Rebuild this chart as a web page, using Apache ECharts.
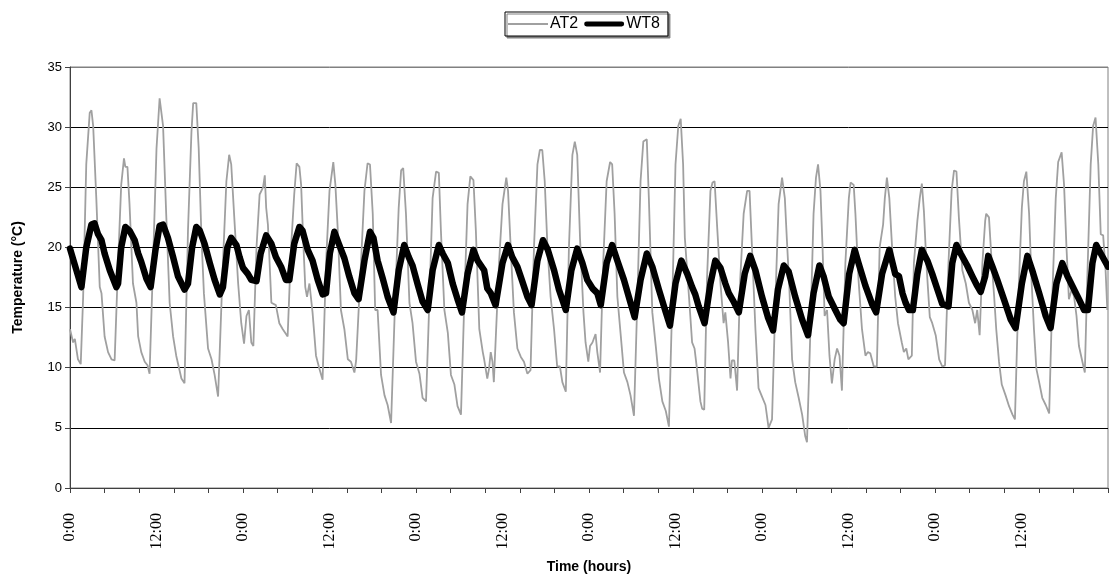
<!DOCTYPE html>
<html>
<head>
<meta charset="utf-8">
<script src="https://cdn.jsdelivr.net/npm/echarts@6/dist/echarts.min.js"></script>
<style>html,body{margin:0;padding:0;background:#fff}#c{width:1109px;height:579px}</style>
</head>
<body>
<div id="c"></div>
<script>
// x = elapsed time in days, y = temperature in °C
const at2 = [
[0.00,13.2],[0.09,12.1],[0.14,12.4],[0.23,10.7],[0.31,10.3],[0.38,15.9],[0.47,26.9],[0.57,31.2],[0.62,31.4],[0.67,30.1],[0.76,24.1],[0.86,16.7],[0.91,16.2],[1.00,12.6],[1.10,11.3],[1.20,10.7],[1.29,10.6],[1.39,18.7],[1.48,25.2],[1.56,27.4],[1.60,26.7],[1.66,26.7],[1.72,23.6],[1.82,17.0],[1.92,15.4],[1.97,12.6],[2.06,11.3],[2.16,10.5],[2.24,10.2],[2.30,9.5],[2.40,18.7],[2.50,28.2],[2.59,32.4],[2.69,30.1],[2.78,22.8],[2.88,15.4],[2.98,12.6],[3.07,11.0],[3.22,9.1],[3.31,8.7],[3.41,21.4],[3.51,29.6],[3.56,32.0],[3.65,32.0],[3.72,28.2],[3.80,20.8],[3.87,16.2],[3.99,11.6],[4.09,10.7],[4.18,9.4],[4.28,7.6],[4.33,7.7],[4.42,18.7],[4.52,25.5],[4.60,27.7],[4.66,26.9],[4.76,21.9],[4.86,17.0],[4.95,13.7],[5.03,12.0],[5.10,14.3],[5.17,14.8],[5.24,12.1],[5.30,11.8],[5.39,20.0],[5.48,24.4],[5.58,25.0],[5.63,26.0],[5.67,23.3],[5.72,21.9],[5.82,15.4],
[5.95,15.2],[6.05,13.7],[6.15,13.2],[6.29,12.6],[6.39,20.0],[6.48,24.4],[6.55,27.0],[6.63,26.7],[6.68,25.2],[6.74,20.6],[6.80,16.7],[6.85,15.9],[6.92,17.0],[7.01,14.6],[7.11,11.0],[7.21,9.9],[7.30,9.0],[7.40,18.7],[7.50,24.7],[7.61,27.1],[7.67,25.2],[7.74,21.4],[7.83,14.8],[7.93,13.2],[8.03,10.7],[8.12,10.5],[8.22,9.6],[8.27,10.6],[8.31,10.5],[8.41,18.7],[8.51,24.7],[8.60,27.0],[8.67,26.9],[8.75,22.8],[8.82,14.8],[8.89,14.8],[8.99,9.4],[9.09,7.7],[9.18,6.9],[9.28,5.4],[9.31,5.4],[9.40,15.9],[9.50,23.3],[9.57,26.4],[9.63,26.6],[9.71,22.8],[9.81,15.4],[9.90,13.7],[10.00,10.5],[10.10,9.5],[10.19,7.5],[10.29,7.2],[10.39,15.9],[10.48,24.1],[10.58,26.3],[10.66,26.2],[10.72,21.4],[10.82,14.8],[10.92,12.9],[11.01,9.4],[11.11,8.6],[11.20,6.8],[11.30,6.1],[11.40,15.9],[11.49,23.6],[11.57,25.9],[11.66,25.6],[11.73,21.4],[11.83,13.2],[11.93,11.3],
[11.97,10.7],[12.06,9.1],[12.11,9.9],[12.16,11.3],[12.21,10.5],[12.25,8.8],[12.30,8.8],[12.40,18.7],[12.50,23.6],[12.54,24.4],[12.61,25.8],[12.66,24.7],[12.74,19.8],[12.83,14.6],[12.93,11.6],[13.03,10.9],[13.12,10.5],[13.22,9.5],[13.31,9.8],[13.41,20.0],[13.51,26.9],[13.58,28.1],[13.65,28.1],[13.72,25.5],[13.80,20.0],[13.89,15.9],[13.99,13.2],[14.08,10.1],[14.16,10.1],[14.23,8.8],[14.33,8.0],[14.42,20.0],[14.52,27.7],[14.59,28.8],[14.66,27.7],[14.74,20.8],[14.84,14.6],[14.90,12.1],[14.98,10.5],[15.03,11.8],[15.10,12.1],[15.19,12.8],[15.24,11.3],[15.32,9.6],[15.41,18.7],[15.51,25.5],[15.61,27.1],[15.67,26.9],[15.74,22.8],[15.82,15.9],[15.92,12.6],[16.01,9.6],[16.11,8.8],[16.20,7.7],[16.30,6.0],[16.40,15.9],[16.49,25.5],[16.57,28.8],[16.67,29.0],[16.73,24.1],[16.83,14.6],[16.93,11.8],[17.02,9.1],[17.12,7.2],[17.22,6.4],[17.31,5.1],[17.41,15.9],[17.50,26.9],[17.58,30.1],[17.65,30.7],[17.72,26.9],[17.77,20.8],[17.82,20.7],[17.89,15.9],
[17.98,12.1],[18.05,11.6],[18.12,9.9],[18.22,7.2],[18.27,6.6],[18.33,6.5],[18.41,17.3],[18.51,24.7],[18.57,25.4],[18.63,25.5],[18.70,21.9],[18.80,17.0],[18.89,13.7],[18.94,14.6],[19.02,12.1],[19.09,9.1],[19.13,10.6],[19.20,10.6],[19.28,8.1],[19.37,17.3],[19.47,22.8],[19.57,24.7],[19.64,24.7],[19.71,20.0],[19.81,13.2],[19.90,8.3],[20.00,7.6],[20.10,6.9],[20.19,5.0],[20.29,5.7],[20.39,15.9],[20.48,23.6],[20.58,25.8],[20.66,24.1],[20.72,20.6],[20.79,16.7],[20.87,10.7],[20.96,8.8],[21.06,7.5],[21.16,6.1],[21.25,4.3],[21.30,3.8],[21.40,13.2],[21.49,22.8],[21.56,25.8],[21.62,26.9],[21.69,24.7],[21.75,20.0],[21.81,14.3],[21.88,14.8],[21.95,11.0],[22.02,8.7],[22.10,10.7],[22.17,11.6],[22.24,11.0],[22.31,8.1],[22.41,18.7],[22.51,24.1],[22.56,25.4],[22.65,25.2],[22.70,22.8],[22.79,17.3],[22.89,13.2],[22.99,11.0],[23.06,11.3],[23.13,11.2],[23.23,10.1],[23.32,10.1],[23.40,20.0],[23.50,21.9],[23.55,24.1],[23.61,25.8],[23.68,24.1],[23.76,20.0],[23.85,15.9],[23.93,13.7],
[24.04,12.1],[24.10,11.3],[24.17,11.6],[24.23,10.7],[24.33,11.0],[24.39,18.7],[24.49,22.2],[24.56,24.1],[24.62,25.3],[24.68,23.0],[24.75,18.7],[24.85,14.2],[24.92,13.7],[25.02,12.7],[25.12,10.7],[25.21,10.1],[25.29,10.2],[25.39,18.7],[25.48,24.7],[25.55,26.4],[25.62,26.3],[25.69,22.5],[25.79,18.1],[25.89,17.0],[25.98,15.4],[26.08,14.8],[26.16,13.7],[26.22,14.8],[26.29,12.7],[26.37,18.7],[26.45,22.2],[26.48,22.8],[26.56,22.5],[26.64,18.7],[26.71,15.9],[26.77,13.2],[26.85,10.5],[26.93,8.6],[27.04,7.7],[27.14,6.8],[27.24,6.1],[27.31,5.7],[27.41,15.9],[27.51,23.3],[27.57,25.5],[27.64,26.3],[27.72,22.8],[27.79,17.3],[27.86,13.2],[27.93,9.9],[28.01,8.8],[28.10,7.5],[28.20,6.9],[28.30,6.2],[28.39,15.9],[28.49,24.1],[28.56,27.1],[28.66,27.9],[28.73,25.2],[28.80,20.0],[28.87,15.7],[28.95,16.5],[29.02,15.9],[29.09,14.3],[29.16,11.8],[29.26,10.5],[29.33,9.6],[29.40,17.3],[29.50,26.9],[29.57,30.1],[29.64,30.8],[29.72,26.9],[29.79,21.1],[29.86,21.0],[29.93,18.1],[29.98,14.8]
];
const wt8 = [
[0.00,19.9],[0.33,16.7],[0.47,20.0],[0.62,21.9],[0.71,22.0],[0.81,21.1],[0.91,20.6],[1.00,19.5],[1.15,18.1],[1.34,16.7],[1.39,17.0],[1.48,20.0],[1.60,21.7],[1.72,21.4],[1.87,20.6],[1.97,19.5],[2.06,18.8],[2.21,17.4],[2.33,16.7],[2.47,19.8],[2.59,21.8],[2.69,21.9],[2.83,20.8],[2.98,19.2],[3.12,17.6],[3.31,16.5],[3.41,17.0],[3.53,20.0],[3.65,21.7],[3.75,21.4],[3.89,20.3],[4.04,18.7],[4.18,17.3],[4.33,16.1],[4.42,16.7],[4.55,20.0],[4.66,20.8],[4.81,20.2],[4.90,19.2],[5.00,18.3],[5.14,17.8],[5.24,17.3],[5.39,17.2],[5.51,19.5],[5.67,21.0],[5.82,20.3],
[5.95,19.2],[6.10,18.4],[6.24,17.3],[6.34,17.3],[6.48,20.3],[6.63,21.7],[6.72,21.4],[6.87,19.8],[7.01,18.9],[7.16,17.3],[7.30,16.1],[7.40,16.2],[7.51,19.5],[7.64,21.3],[7.77,20.3],[7.93,19.1],[8.07,17.6],[8.22,16.2],[8.34,15.7],[8.51,18.9],[8.67,21.3],[8.77,20.8],[8.89,18.9],[9.04,17.4],[9.18,15.9],[9.35,14.6],[9.50,18.1],[9.66,20.2],[9.79,19.2],[9.90,18.5],[10.05,16.9],[10.19,15.5],[10.34,14.8],[10.48,18.1],[10.66,20.2],[10.77,19.5],[10.92,18.7],[11.06,17.0],[11.20,15.7],[11.33,14.6],[11.49,17.8],[11.66,19.8],[11.78,18.9],
[11.97,18.1],[12.06,16.6],[12.16,16.2],[12.30,15.2],[12.50,18.7],[12.66,20.2],[12.78,19.2],[12.93,18.4],[13.07,17.2],[13.22,15.9],[13.34,15.2],[13.51,18.9],[13.67,20.6],[13.81,19.8],[13.99,18.1],[14.13,16.5],[14.33,14.8],[14.49,18.1],[14.66,19.9],[14.81,18.7],[14.95,17.3],[15.10,16.6],[15.24,16.2],[15.34,15.2],[15.51,18.7],[15.67,20.2],[15.82,18.9],[16.01,17.3],[16.20,15.4],[16.32,14.2],[16.49,17.3],[16.67,19.5],[16.83,18.4],[17.02,16.5],[17.22,14.6],[17.34,13.5],[17.50,17.0],[17.67,18.9],[17.84,17.8],
[17.98,16.7],[18.07,16.1],[18.17,15.1],[18.34,13.7],[18.51,17.0],[18.65,18.9],[18.80,18.3],[18.94,17.0],[19.04,16.2],[19.18,15.5],[19.33,14.6],[19.50,17.8],[19.66,19.3],[19.81,18.1],[20.00,15.9],[20.17,14.2],[20.32,13.1],[20.46,16.5],[20.63,18.5],[20.77,18.0],[20.96,15.9],[21.16,14.0],[21.33,12.7],[21.49,16.2],[21.66,18.5],[21.78,17.6],[21.93,15.9],[22.12,14.8],[22.26,14.0],[22.36,13.7],[22.52,17.8],[22.68,19.8],[22.79,18.7],[22.99,16.8],[23.18,15.3],[23.30,14.6],[23.47,17.8],[23.68,19.8],[23.85,17.8],
[23.96,17.6],[24.06,16.2],[24.15,15.4],[24.25,14.8],[24.36,14.8],[24.49,17.8],[24.62,19.8],[24.78,18.9],[24.92,17.8],[25.07,16.5],[25.21,15.3],[25.39,15.1],[25.50,18.7],[25.62,20.2],[25.74,19.5],[25.93,18.5],[26.08,17.6],[26.22,16.8],[26.32,16.3],[26.45,17.6],[26.54,19.3],[26.66,18.4],[26.80,17.3],[26.99,15.7],[27.19,14.0],[27.33,13.3],[27.51,17.0],[27.67,19.3],[27.81,18.1],[28.01,16.2],[28.20,14.3],[28.34,13.3],[28.51,17.0],[28.68,18.7],[28.83,17.6],[28.97,16.8],[29.16,15.7],[29.31,14.8],[29.42,14.8],[29.55,18.7],[29.66,20.2],[29.79,19.5],[30.00,18.4]
];
const xTickDays = [0,1,2,3,4,5,6,7,8,9,10,11,12,13,14,15,16,17,18,19,20,21,22,23,24,25,26,27,28,29,30];
const xLabelDays = [0,2.5,5,7.5,10,12.5,15,17.5,20,22.5,25,27.5];
const xLabelText = ['0:00','12:00','0:00','12:00','0:00','12:00','0:00','12:00','0:00','12:00','0:00','12:00'];
const seriesNames = ['AT2','WT8'];

const chart = echarts.init(document.getElementById('c'));
chart.setOption({
  animation: false,
  backgroundColor: '#fff',
  legend: {
    top: 12, left: 505,
    data: [
      { name: seriesNames[0], icon: 'path://M0,0H40V2H0Z' },
      { name: seriesNames[1], icon: 'path://M2,0H38A2,2 0 0 1 38,5H2A2,2 0 0 1 2,0Z' }
    ],
    symbolKeepAspect: true,
    backgroundColor: '#fff',
    borderColor: '#000', borderWidth: 1, borderRadius: 0,
    padding: [4, 8, 4, 3],
    shadowColor: '#808080', shadowBlur: 0, shadowOffsetX: 2, shadowOffsetY: 2,
    itemWidth: 40, itemHeight: 16, itemGap: 6,
    textStyle: { fontFamily: 'Liberation Sans', fontSize: 16, color: '#000', padding: [0, 0, 0, -3] }
  },
  grid: { left: 70, right: 1, top: 67, bottom: 85, show: true, borderColor: '#808080', borderWidth: 1, backgroundColor: '#fff' },
  xAxis: {
    type: 'value', min: 0, max: 30, interval: 1,
    name: 'Time (hours)', nameLocation: 'middle', nameGap: 72,
    nameTextStyle: { fontFamily: 'Liberation Sans', fontSize: 14, fontWeight: 'bold', color: '#000' },
    axisLine: { show: true, lineStyle: { color: '#404040', width: 1 } },
    axisTick: { show: true, length: 5, customValues: xTickDays, lineStyle: { color: '#404040' } },
    axisLabel: {
      customValues: xLabelDays, rotate: 90, margin: 25,
      fontFamily: 'Liberation Serif', fontSize: 16, color: '#000',
      formatter: function (v) { const i = xLabelDays.indexOf(v); return i >= 0 ? xLabelText[i] : ''; }
    },
    splitLine: { show: false }
  },
  yAxis: {
    type: 'value', min: 0, max: 35, interval: 5,
    name: 'Temperature (°C)', nameLocation: 'middle', nameGap: 45,
    nameTextStyle: { fontFamily: 'Liberation Sans', fontSize: 14, fontWeight: 'bold', color: '#000' },
    axisLine: { show: true, lineStyle: { color: '#404040', width: 1 } },
    axisTick: { show: true, length: 5, lineStyle: { color: '#404040' } },
    axisLabel: { fontFamily: 'Liberation Sans', fontSize: 13, color: '#000', margin: 8 },
    splitLine: { show: true, lineStyle: { color: ['#000','#000','#000','#000','#000','#000','#000','#808080'], width: 1 } }
  },
  series: [
    { name: 'AT2', type: 'line', data: at2, symbol: 'none', showSymbol: false,
      lineStyle: { color: '#a0a0a0', width: 1.8 }, itemStyle: { color: '#a0a0a0' }, z: 2 },
    { name: 'WT8', type: 'line', data: wt8, symbol: 'none', showSymbol: false,
      lineStyle: { color: '#000', width: 6.5, join: 'round', cap: 'round' }, itemStyle: { color: '#000' }, z: 3 }
  ]
});
</script>
</body>
</html>
